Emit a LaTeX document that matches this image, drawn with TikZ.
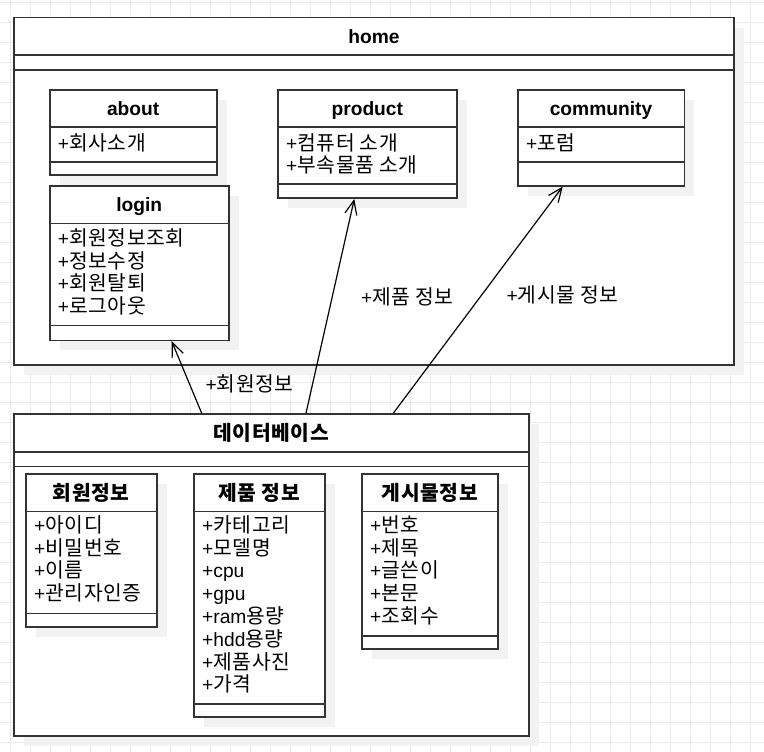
\documentclass[tikz,border=0pt]{standalone}
\usepackage{fontspec}
\setmainfont{Liberation Sans}
\newfontfamily\kr[Scale=1.06,LetterSpace=3]{Noto Sans CJK KR}
\usetikzlibrary{arrows.meta}

\definecolor{gridc}{HTML}{EBEBEB}
\definecolor{shadowc}{HTML}{F2F2F2}
\definecolor{linec}{HTML}{333333}

\tikzset{
  classbox/.style={draw=linec, line width=1.6pt, fill=white, inner sep=0pt, outer sep=0pt},
  divider/.style={draw=linec, line width=1.6pt},
  boxtitle/.style={anchor=base, inner sep=0pt, font=\fontsize{19.2}{22}\selectfont\bfseries},
  member/.style={anchor=base west, inner sep=0pt, font=\fontsize{19.2}{22}\selectfont},
  edgelabel/.style={anchor=base west, inner sep=0pt, font=\fontsize{19.2}{22}\selectfont},
  link/.style={draw=black, line width=1.2pt, -{Straight Barb[length=14pt,width=12pt,line width=1.2pt]}}
}

% class box: name, left, top, right, bottom, header line, member separator
\newcommand\umlbox[7]{%
  \fill[shadowc] (#2+10,#3+10) rectangle (#4+10,#5+10);
  \node[classbox, anchor=north west, minimum width={#4pt-#2pt}, minimum height={#5pt-#3pt}] (#1) at (#2,#3) {};
  \draw[divider] (#2,#6) -- (#4,#6);
  \draw[divider] (#2,#7) -- (#4,#7);
}

\begin{document}
\begin{tikzpicture}[x=1pt,y=-1pt]
\useasboundingbox (0,0) rectangle (764,752);
\fill[white] (0,0) rectangle (764,752);

% background grid
\foreach \gx in {10.5,30.5,...,750.5} \draw[gridc, line width=1pt] (\gx,0) -- (\gx,752);
\foreach \gy in {2.5,22.5,...,742.5} \draw[gridc, line width=1pt] (0,\gy) -- (764,\gy);

% ---------- home package ----------
\umlbox{home}{14}{17.7}{734}{365}{55}{70}
\node[boxtitle] (homet) at (374,43.5) {home};

\umlbox{about}{49.7}{90}{216.7}{175}{127}{162}
\node[boxtitle] (aboutt) at (133.2,115.5) {about};
\node[member] (about1) at (57.7,150.3) {+{\kr 회사소개}};

\umlbox{login}{49.7}{185.7}{228.7}{340.3}{223.3}{325.3}
\node[boxtitle] (logint) at (139.2,211.5) {login};
\node[member] (login1) at (57.7,245.3) {+{\kr 회원정보조회}};
\node[member] (login2) at (57.7,268) {+{\kr 정보수정}};
\node[member] (login3) at (57.7,290.6) {+{\kr 회원탈퇴}};
\node[member] (login4) at (57.7,313.3) {+{\kr 로그아웃}};

\umlbox{product}{278}{90}{456.7}{198}{127}{184}
\node[boxtitle] (productt) at (367.3,115.5) {product};
\node[member] (product1) at (286,150.3) {+{\kr 컴퓨터 소개}};
\node[member] (product2) at (286,172.5) {+{\kr 부속물품 소개}};

\umlbox{community}{517.7}{90}{684.3}{185.7}{127}{162}
\node[boxtitle] (communityt) at (601,115.5) {community};
\node[member] (community1) at (526,150.3) {+{\kr 포럼}};

% ---------- database package ----------
\umlbox{db}{14}{414}{528.7}{736}{451.7}{466.3}
\node[boxtitle] (dbt) at (271.3,440) {\kr\bfseries 데이터베이스};

\umlbox{member}{26}{473.7}{156.7}{627}{511.3}{613.3}
\node[boxtitle] (membert) at (91.3,500) {\kr\bfseries 회원정보};
\node[member] (member1) at (34,532.3) {+{\kr 아이디}};
\node[member] (member2) at (34,555.1) {+{\kr 비밀번호}};
\node[member] (member3) at (34,577.9) {+{\kr 이름}};
\node[member] (member4) at (34,600.7) {+{\kr 관리자인증}};

\umlbox{goods}{194}{473.7}{324.7}{716.7}{511.3}{703.7}
\node[boxtitle] (goodst) at (259.3,500) {\kr\bfseries 제품 정보};
\node[member] (goods1) at (202,532.3) {+{\kr 카테고리}};
\node[member] (goods2) at (202,555.1) {+{\kr 모델명}};
\node[member] (goods3) at (202,577.9) {+cpu};
\node[member] (goods4) at (202,600.7) {+gpu};
\node[member] (goods5) at (202,623.5) {+ram{\kr 용량}};
\node[member] (goods6) at (202,646.3) {+hdd{\kr 용량}};
\node[member] (goods7) at (202,669.1) {+{\kr 제품사진}};
\node[member] (goods8) at (202,691.9) {+{\kr 가격}};

\umlbox{post}{362}{473.7}{498}{649}{511.3}{636}
\node[boxtitle] (postt) at (430,500) {\kr\bfseries 게시물정보};
\node[member] (post1) at (370,532.3) {+{\kr 번호}};
\node[member] (post2) at (370,555.1) {+{\kr 제목}};
\node[member] (post3) at (370,577.9) {+{\kr 글쓴이}};
\node[member] (post4) at (370,600.7) {+{\kr 본문}};
\node[member] (post5) at (370,623.5) {+{\kr 조회수}};

% ---------- associations ----------
\coordinate (dbA) at (201.7,413.2);
\coordinate (dbB) at (306,413.2);
\coordinate (dbC) at (393.3,413.2);
\coordinate (loginS) at (171.7,341.2);
\coordinate (productS) at (354.3,199);
\coordinate (communityS) at (562.7,186.6);

\draw[link] (dbA) -- (loginS);
\draw[link] (dbB) -- (productS);
\draw[link] (dbC) -- (communityS);

\node[edgelabel] (lblA) at (205.5,391.3) {+{\kr 회원정보}};
\node[edgelabel] (lblB) at (361,304.3) {+{\kr 제품 정보}};
\node[edgelabel] (lblC) at (506.5,302.7) {+{\kr 게시물 정보}};
\end{tikzpicture}
\end{document}
